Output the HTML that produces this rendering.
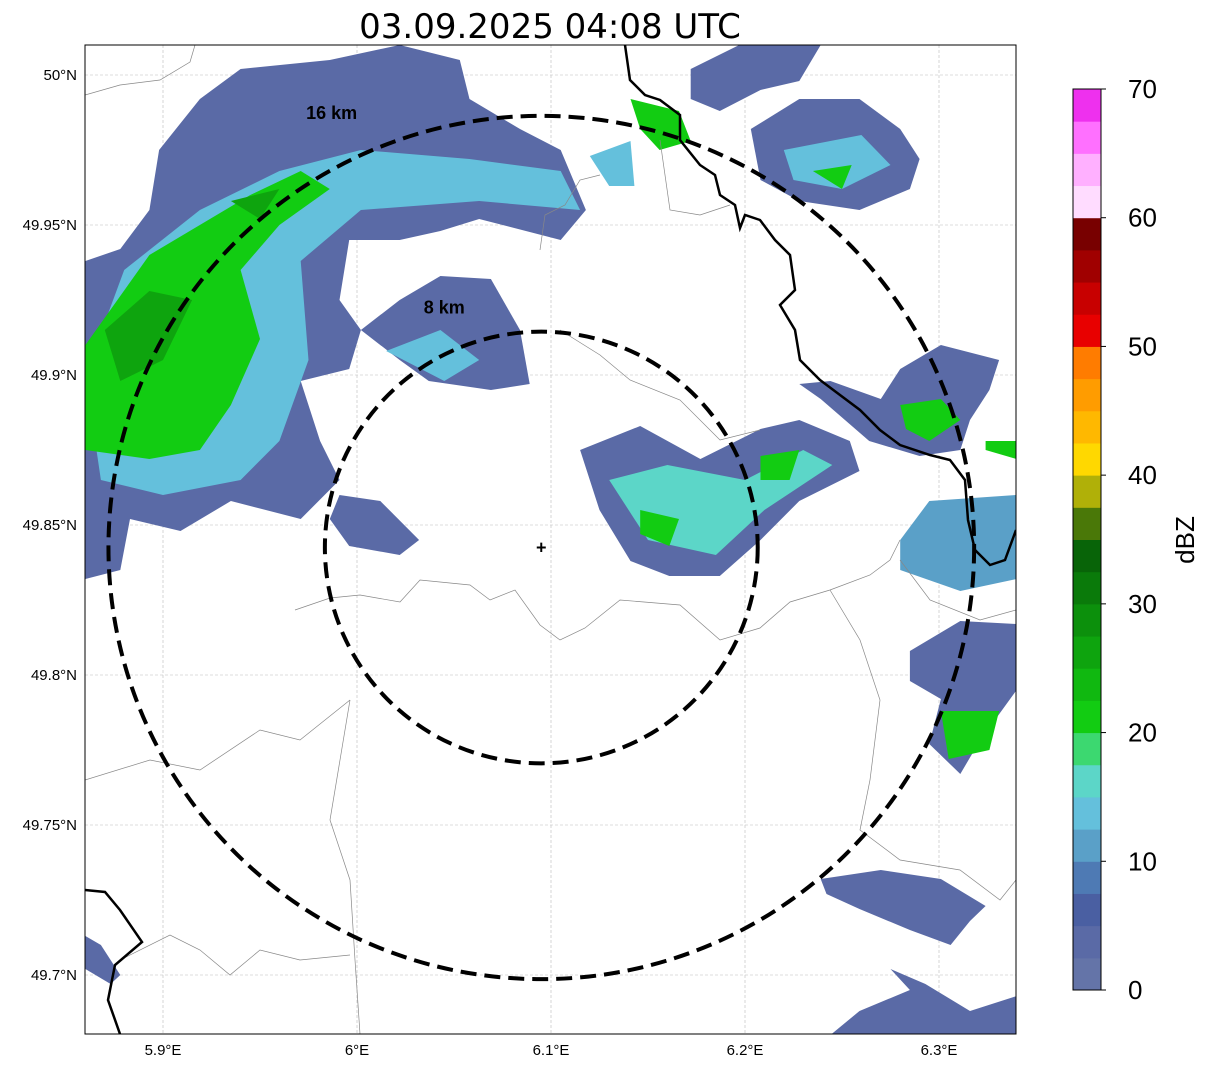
<!DOCTYPE html>
<html><head><meta charset="utf-8"><style>
body{margin:0;background:#fff;font-family:"Liberation Sans","DejaVu Sans",sans-serif}
svg{display:block}
</style></head><body>
<svg id="chart" width="1207" height="1069" viewBox="0 0 1207 1069" xmlns="http://www.w3.org/2000/svg">
<defs><clipPath id="plotclip"><rect x="85" y="45" width="931" height="989"/></clipPath></defs>
<text x="550" y="38" font-size="34" text-anchor="middle" font-family="DejaVu Sans, Liberation Sans, sans-serif">03.09.2025 04:08 UTC</text>
<g id="grid"></g>
<g id="echoes" clip-path="url(#plotclip)"></g>
<g id="borders" clip-path="url(#plotclip)"></g>
<g id="rings" clip-path="url(#plotclip)"></g>
<rect x="85" y="45" width="931" height="989" fill="none" stroke="#000" stroke-width="1"/>
<g id="axes"></g>
<g id="cbar"></g>
</svg>
<script>
// ---- data ----
const lonTicks=[5.9,6.0,6.1,6.2,6.3];
const lonTickLabels=["5.9°E","6°E","6.1°E","6.2°E","6.3°E"];
const latTicks=[50.0,49.95,49.9,49.85,49.8,49.75,49.7];
const latTickLabels=["50°N","49.95°N","49.9°N","49.85°N","49.8°N","49.75°N","49.7°N"];
const cbarTicks=[0,10,20,30,40,50,60,70];
const cbarColors=["#6474a8","#5a6aa6","#4a5fa2","#4e7ab4","#5aa0c8","#64c0dc","#5cd6c8","#3cd870","#12cc12","#10b810","#0ea40e","#0c900c","#0a7a0a","#086408","#4a7808","#b0b008","#ffd800","#ffb800","#ff9c00","#ff7c00","#e80000","#c80000","#a00000","#780000","#ffdcff","#ffb0ff","#ff70ff","#ee30ee"];
const radarLon=6.095, radarLat=49.8425;
const ringKm=[8,16];
const ringLabels=["8 km","16 km"];
const echoDbz=[4,14,21,27,27,4,14,4,4,15,21,21,4,4,14,21,21,14,4,21,21,12,4,21,4,4,4];
const echoPolys=[
[[5.898,49.975],[5.919,49.992],[5.940,50.002],[5.986,50.005],[6.022,50.010],[6.053,50.005],[6.058,49.992],[6.084,49.982],[6.105,49.975],[6.118,49.955],[6.105,49.945],[6.063,49.952],[6.043,49.948],[6.022,49.945],[5.996,49.945],[5.991,49.925],[6.002,49.915],[5.996,49.902],[5.971,49.898],[5.981,49.878],[5.991,49.865],[5.971,49.852],[5.935,49.858],[5.909,49.848],[5.883,49.852],[5.878,49.835],[5.860,49.832],[5.860,49.938],[5.878,49.942],[5.893,49.955]],
[[5.880,49.935],[5.919,49.955],[5.960,49.968],[6.002,49.975],[6.058,49.972],[6.105,49.968],[6.115,49.955],[6.063,49.958],[6.002,49.955],[5.971,49.938],[5.975,49.905],[5.960,49.878],[5.940,49.865],[5.900,49.860],[5.868,49.865],[5.860,49.900]],
[[5.860,49.910],[5.893,49.940],[5.945,49.960],[5.971,49.968],[5.986,49.962],[5.960,49.950],[5.940,49.935],[5.950,49.912],[5.935,49.890],[5.919,49.875],[5.893,49.872],[5.860,49.875]],
[[5.870,49.915],[5.893,49.928],[5.915,49.925],[5.900,49.905],[5.878,49.898]],
[[5.935,49.958],[5.960,49.962],[5.950,49.952]],
[[6.002,49.915],[6.022,49.925],[6.043,49.933],[6.069,49.932],[6.084,49.915],[6.089,49.897],[6.069,49.895],[6.037,49.898],[6.022,49.905]],
[[6.015,49.908],[6.043,49.915],[6.063,49.905],[6.045,49.898]],
[[5.991,49.860],[6.012,49.858],[6.032,49.845],[6.022,49.840],[5.996,49.843],[5.986,49.852]],
[[6.115,49.875],[6.146,49.883],[6.177,49.872],[6.208,49.882],[6.228,49.885],[6.254,49.878],[6.259,49.868],[6.228,49.858],[6.208,49.845],[6.187,49.833],[6.161,49.833],[6.141,49.838],[6.125,49.855]],
[[6.130,49.865],[6.160,49.870],[6.200,49.865],[6.230,49.875],[6.245,49.870],[6.210,49.855],[6.185,49.840],[6.150,49.845]],
[[6.146,49.855],[6.166,49.852],[6.161,49.843],[6.146,49.847]],
[[6.208,49.873],[6.228,49.875],[6.223,49.865],[6.208,49.865]],
[[6.172,50.002],[6.197,50.010],[6.239,50.010],[6.228,49.998],[6.208,49.995],[6.187,49.988],[6.172,49.992]],
[[6.203,49.982],[6.228,49.992],[6.259,49.992],[6.280,49.982],[6.290,49.972],[6.285,49.962],[6.259,49.955],[6.228,49.958],[6.208,49.965]],
[[6.220,49.975],[6.260,49.980],[6.275,49.970],[6.250,49.962],[6.225,49.965]],
[[6.235,49.968],[6.255,49.970],[6.250,49.962]],
[[6.141,49.992],[6.166,49.988],[6.172,49.978],[6.156,49.975],[6.146,49.982]],
[[6.120,49.973],[6.141,49.978],[6.143,49.963],[6.130,49.963]],
[[6.228,49.897],[6.244,49.898],[6.270,49.892],[6.280,49.902],[6.301,49.910],[6.331,49.905],[6.326,49.895],[6.316,49.885],[6.311,49.875],[6.290,49.873],[6.264,49.878],[6.239,49.892]],
[[6.280,49.890],[6.301,49.892],[6.311,49.885],[6.295,49.878],[6.283,49.882]],
[[6.324,49.878],[6.340,49.878],[6.340,49.872],[6.324,49.875]],
[[6.295,49.858],[6.340,49.860],[6.340,49.832],[6.311,49.828],[6.280,49.835],[6.280,49.845]],
[[6.285,49.808],[6.311,49.818],[6.340,49.817],[6.340,49.795],[6.321,49.778],[6.311,49.767],[6.295,49.777],[6.301,49.792],[6.285,49.798]],
[[6.301,49.788],[6.331,49.788],[6.326,49.775],[6.305,49.772]],
[[6.239,49.732],[6.270,49.735],[6.301,49.732],[6.324,49.723],[6.316,49.718],[6.306,49.710],[6.285,49.715],[6.259,49.722],[6.242,49.727]],
[[6.244,49.680],[6.259,49.688],[6.285,49.695],[6.275,49.702],[6.293,49.697],[6.316,49.688],[6.340,49.693],[6.340,49.680]],
[[5.860,49.713],[5.868,49.710],[5.878,49.700],[5.873,49.697],[5.860,49.702]]
];
// ---- scales ----
const x=lon=>163+(lon-5.9)*1940;
const y=lat=>75+(50-lat)*3000;
const cbY=v=>990-v*(990-89)/70;
const NS="http://www.w3.org/2000/svg";
function mk(tag,parent){const e=document.createElementNS(NS,tag);document.getElementById(parent).appendChild(e);return e;}
function colorFor(d){return cbarColors[Math.min(cbarColors.length-1,Math.max(0,Math.floor(d/2.5)))];}

lonTicks.forEach((v,i)=>{
  const l=mk('line','grid');
  
  
  l.setAttribute('x1',x(v));l.setAttribute('x2',x(v));l.setAttribute('y1',45);l.setAttribute('y2',1034);
  l.setAttribute('stroke','#bbb');l.setAttribute('stroke-width','0.6');l.setAttribute('stroke-dasharray','3,2');
  const t=mk('text','axes');
  
  
  t.setAttribute('x',x(v));t.setAttribute('y',1055);t.setAttribute('font-size','15');t.setAttribute('text-anchor','middle');
  t.textContent=lonTickLabels[i];
});
latTicks.forEach((v,i)=>{
  const l=mk('line','grid');
  
  
  l.setAttribute('x1',85);l.setAttribute('x2',1016);l.setAttribute('y1',y(v));l.setAttribute('y2',y(v));
  l.setAttribute('stroke','#bbb');l.setAttribute('stroke-width','0.6');l.setAttribute('stroke-dasharray','3,2');
  const t=mk('text','axes');
  
  
  t.setAttribute('x',77);t.setAttribute('y',y(v)+5);t.setAttribute('font-size','15');t.setAttribute('text-anchor','end');
  t.textContent=latTickLabels[i];
});

echoPolys.forEach((p,i)=>{
  const e=mk('polygon','echoes');
  
  
  e.setAttribute('points',p.map(q=>x(q[0]).toFixed(1)+','+y(q[1]).toFixed(1)).join(' '));
  e.setAttribute('fill',colorFor(echoDbz[i]));
});

const thinBorders=[
 [[85,95],[120,85],[160,80],[190,62],[195,45]],
 [[295,610],[330,598],[360,595],[400,602],[420,580],[470,585],[490,600],[515,590],[540,625],[560,640],[585,628],[620,600],[680,605],[720,640],[760,628],[790,602],[830,590],[870,575],[890,560],[900,540]],
 [[350,700],[340,760],[330,820],[350,880],[355,960],[360,1034]],
 [[120,960],[170,935],[200,950],[230,975],[260,950],[300,960],[350,955]],
 [[830,590],[860,640],[880,700],[870,780],[860,830],[900,860],[960,870],[1000,900],[1016,880]],
 [[540,250],[545,215],[565,205],[580,180],[600,175]],
 [[560,330],[600,355],[630,380],[680,400],[720,440],[760,430]],
 [[85,780],[150,760],[200,770],[260,730],[300,740],[350,700]],
 [[900,560],[930,600],[980,620],[1016,610]],
 [[660,140],[670,210],[700,215],[730,205]]
];
const thickBorders=[
 [[625,45],[630,80],[645,95],[660,100],[680,115],[680,140],[700,165],[715,175],[720,195],[735,205],[740,228],[745,215],[760,220],[775,240],[790,255],[795,290],[780,305],[795,330],[800,360],[820,380],[840,395],[860,410],[880,430],[900,445],[930,455],[950,460],[965,480],[968,520],[975,550],[990,565],[1005,560],[1016,530]],
 [[85,890],[105,892],[120,910],[142,942],[115,965],[108,1000],[120,1034]]
];
thinBorders.forEach(p=>{
  const e=mk('polyline','borders');
  
  
  e.setAttribute('points',p.map(q=>q.join(',')).join(' '));
  e.setAttribute('fill','none');e.setAttribute('stroke','#888');e.setAttribute('stroke-width','0.7');
});
thickBorders.forEach(p=>{
  const e=mk('polyline','borders');
  
  
  e.setAttribute('points',p.map(q=>q.join(',')).join(' '));
  e.setAttribute('fill','none');e.setAttribute('stroke','#000');e.setAttribute('stroke-width','2.5');
});

const cx=x(radarLon), cy=y(radarLat);
const kmPerDegLat=111.2, kmPerDegLon=111.2*Math.cos(radarLat*Math.PI/180);
const labelDy=[-18,3];
ringKm.forEach((r,i)=>{
  const e=mk('ellipse','rings');
  
  
  const ry=cy-y(radarLat+r/kmPerDegLat);
  e.setAttribute('cx',cx);e.setAttribute('cy',cy);
  e.setAttribute('rx',(x(radarLon+r/kmPerDegLon)-cx));
  e.setAttribute('ry',ry);
  e.setAttribute('fill','none');e.setAttribute('stroke','#000');e.setAttribute('stroke-width','4');e.setAttribute('stroke-dasharray','16,8');
  const t=mk('text','rings');
  
  
  t.setAttribute('x',cx-r*14.7);t.setAttribute('y',cy-ry+labelDy[i]);
  t.setAttribute('font-size','18');t.setAttribute('font-weight','bold');
  t.textContent=ringLabels[i];
});
const rm=mk('text','rings');


rm.setAttribute('x',cx);rm.setAttribute('y',cy+6);rm.setAttribute('font-size','18');rm.setAttribute('font-weight','bold');rm.setAttribute('text-anchor','middle');
rm.textContent='+';

cbarColors.forEach((c,i)=>{
  const r=mk('rect','cbar');
  
  
  r.setAttribute('x',1073);r.setAttribute('width',28);
  r.setAttribute('y',cbY((i+1)*2.5));r.setAttribute('height',cbY(i*2.5)-cbY((i+1)*2.5)+0.5);
  r.setAttribute('fill',c);
});
const fr=mk('rect','cbar');


fr.setAttribute('x',1073);fr.setAttribute('y',89);fr.setAttribute('width',28);fr.setAttribute('height',901);fr.setAttribute('fill','none');fr.setAttribute('stroke','#000');
cbarTicks.forEach(v=>{
  const l=mk('line','cbar');
  
  
  l.setAttribute('x1',1101);l.setAttribute('x2',1106);l.setAttribute('y1',cbY(v));l.setAttribute('y2',cbY(v));l.setAttribute('stroke','#000');
  const t=mk('text','cbar');
  
  
  t.setAttribute('x',1128);t.setAttribute('y',cbY(v)+9);t.setAttribute('font-size','26');
  t.textContent=v;
});
const cl=mk('text','cbar');


cl.setAttribute('transform','translate(1194,540) rotate(-90)');cl.setAttribute('font-size','26');cl.setAttribute('text-anchor','middle');
cl.textContent='dBZ';
</script>
</body></html>
